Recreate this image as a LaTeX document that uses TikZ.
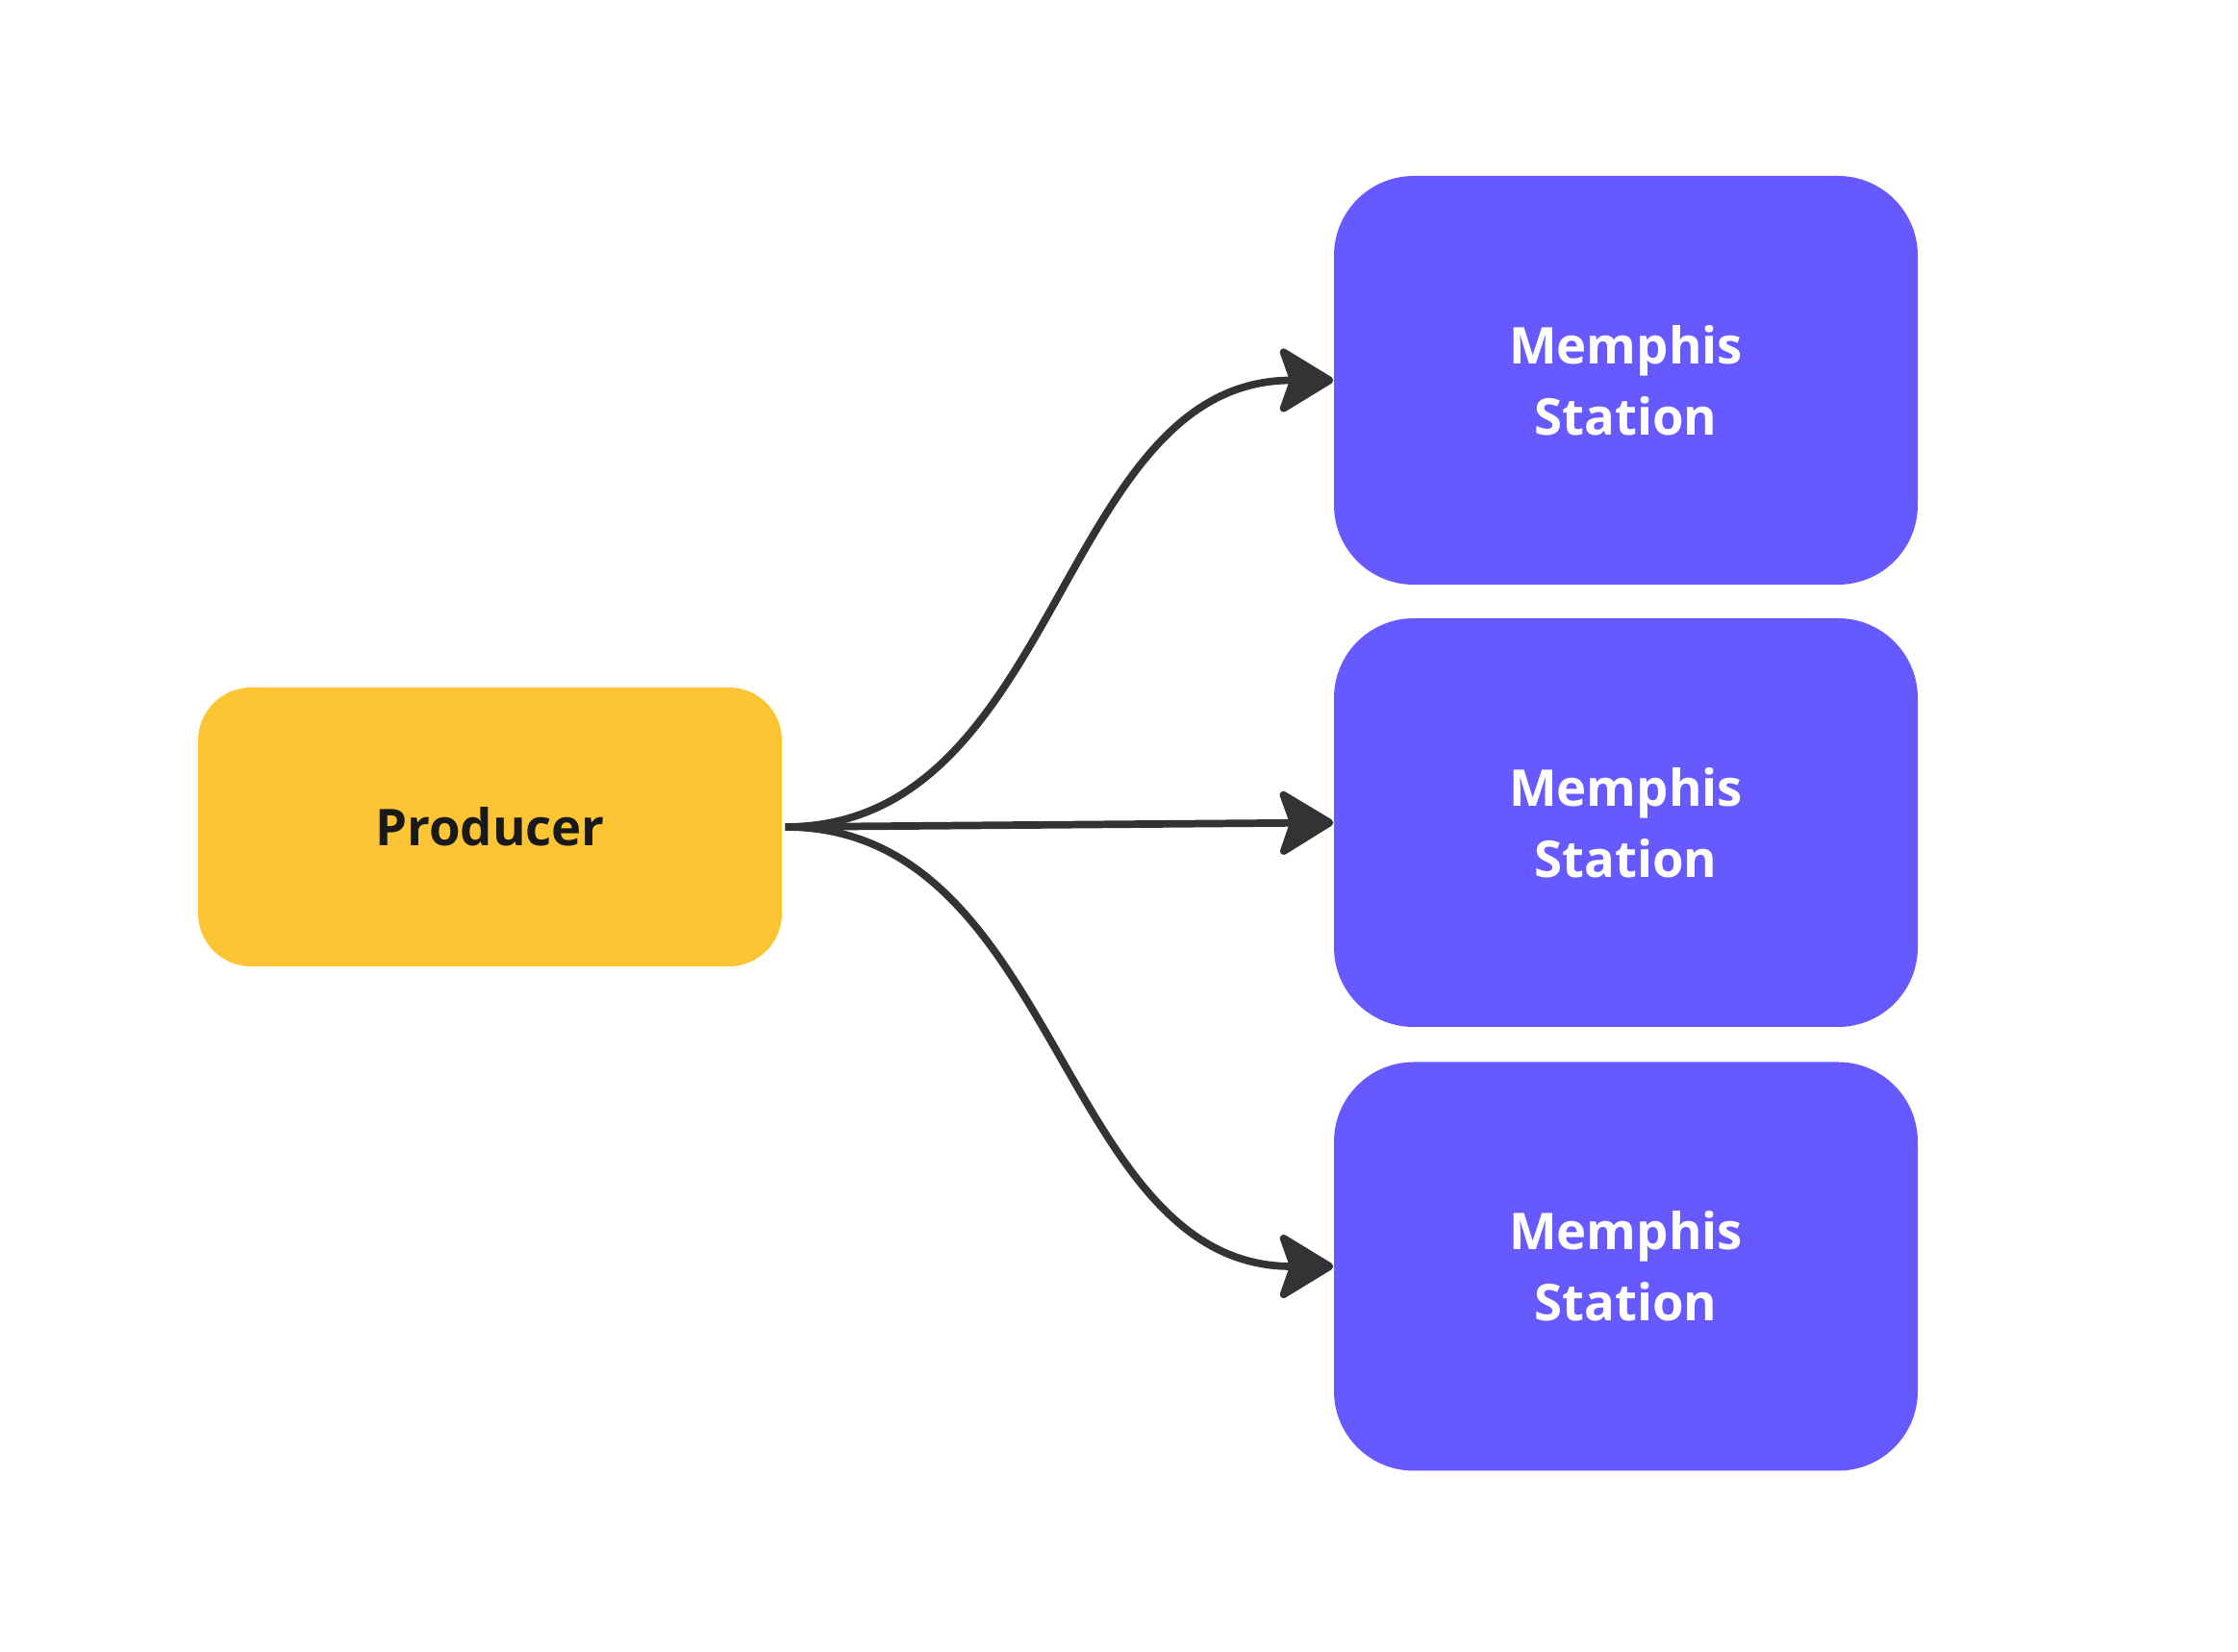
\documentclass[tikz,border=0pt]{standalone}
\usepackage{fontspec}
\setmainfont{Open Sans}
\usetikzlibrary{arrows.meta}
\definecolor{prodyellow}{RGB}{253,197,52}
\definecolor{stationblue}{RGB}{101,89,255}
\definecolor{linegray}{RGB}{51,51,51}
\begin{document}
\begin{tikzpicture}[
    producer/.style={fill=prodyellow,rounded corners=0.55cm,minimum width=6.07cm,minimum height=2.9cm,text=black!90,font=\bfseries\fontsize{15}{21}\selectfont},
    station/.style={fill=stationblue,rounded corners=0.83cm,minimum width=6.07cm,minimum height=4.25cm,text=white,align=center,font=\bfseries\fontsize{15}{21}\selectfont},
    flow/.style={draw=linegray,line width=2.2pt,-{Stealth[length=6.2mm,width=7.5mm,inset=1.3mm,round]}}
  ]
    \useasboundingbox (0,0) rectangle (23.27,17.18);
    \node[producer] (prod) at (5.095,8.58) {Producer};
    \node[station] (st1) at (16.905,13.225) {Memphis\\Station};
    \node[station] (st2) at (16.905,8.625) {Memphis\\Station};
    \node[station] (st3) at (16.905,4.01) {Memphis\\Station};
    \coordinate (src) at ([xshift=0.03cm]prod.east);
    \draw[flow] (src) to[out=0,in=180] (st1.west);
    \draw[flow] (src) -- (st2.west);
    \draw[flow] (src) to[out=0,in=180] (st3.west);
  \end{tikzpicture}
\end{document}
